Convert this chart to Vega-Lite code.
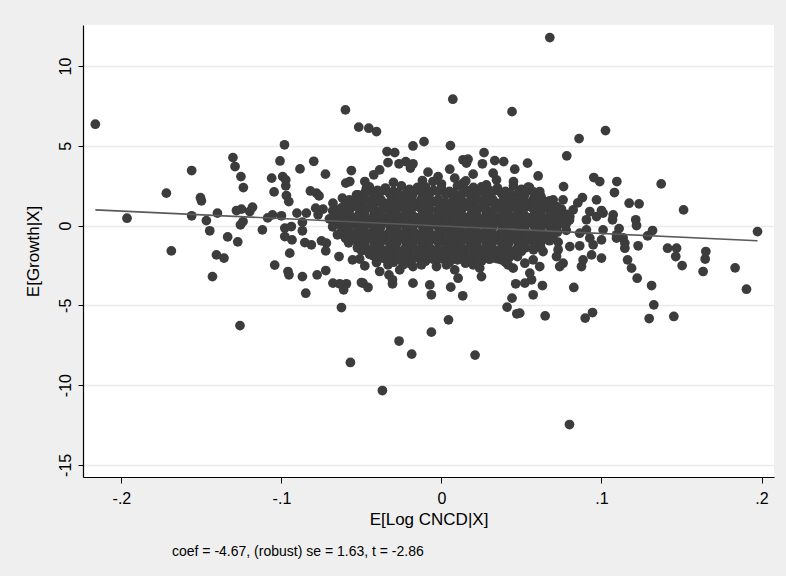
{
"$schema":"https://vega.github.io/schema/vega-lite/v6.json",
"width":691,"height":452,
"autosize":{"type":"none"},
"padding":{"left":83,"top":25,"right":12,"bottom":99},
"background":"#efefef",
"config":{"view":{"fill":"white","stroke":null},"font":"Liberation Sans"},
"title":{"text":"coef =  -4.67, (robust) se = 1.63, t = -2.86","orient":"bottom","anchor":"start","frame":"group","dx":89,"offset":18,"fontSize":14,"fontWeight":"normal","color":"#000"},
"layer":[
{"data":{"values":[
{"x":-0.2163,"y":6.35},{"x":-0.1965,"y":0.46},{"x":-0.1719,"y":2.03},{"x":-0.1688,"y":-1.59},{"x":-0.1561,"y":3.45},{"x":-0.1506,"y":1.75},{"x":-0.15,"y":1.55},{"x":-0.1561,"y":0.61},{"x":-0.1469,"y":0.31},{"x":-0.14,"y":0.78},
{"x":-0.1448,"y":-0.33},{"x":-0.1336,"y":-0.71},{"x":-0.1273,"y":-1.02},{"x":-0.1303,"y":4.26},{"x":-0.129,"y":3.7},{"x":-0.1253,"y":3.07},{"x":-0.1238,"y":2.38},{"x":-0.1281,"y":0.94},{"x":-0.125,"y":1.03},{"x":-0.1181,"y":1.15},
{"x":-0.1198,"y":0.88},{"x":-0.124,"y":0.25},{"x":-0.1256,"y":0.04},{"x":-0.1119,"y":-0.27},{"x":-0.1086,"y":0.48},{"x":-0.1056,"y":0.67},{"x":-0.1,"y":0.61},{"x":-0.1061,"y":2.97},{"x":-0.1046,"y":2.11},{"x":-0.1009,"y":4.05},
{"x":-0.0981,"y":5.06},{"x":-0.0992,"y":3.07},{"x":-0.0973,"y":2.86},{"x":-0.0973,"y":2.49},{"x":-0.0969,"y":1.88},{"x":-0.0954,"y":1.5},{"x":-0.0884,"y":3.55},{"x":-0.0798,"y":4.03},{"x":-0.0819,"y":2.17},{"x":-0.0781,"y":2.03},
{"x":-0.0903,"y":0.78},{"x":-0.0844,"y":0.78},{"x":-0.0869,"y":0.21},{"x":-0.0786,"y":1.09},{"x":-0.0979,"y":-0.16},{"x":-0.0938,"y":-0.06},{"x":-0.0979,"y":-0.69},{"x":-0.0934,"y":-0.9},{"x":-0.0854,"y":-1.07},{"x":-0.0813,"y":-1.21},
{"x":-0.1406,"y":-1.84},{"x":-0.1359,"y":-2.04},{"x":-0.1431,"y":-3.2},{"x":-0.1259,"y":-6.27},{"x":-0.1042,"y":-2.48},{"x":-0.0959,"y":-2.88},{"x":-0.0953,"y":-3.09},{"x":-0.0869,"y":-3.2},{"x":-0.0848,"y":-4.24},{"x":-0.0948,"y":-1.73},
{"x":-0.0777,"y":-3.09},{"x":-0.0725,"y":3.22},{"x":-0.0765,"y":1.86},{"x":-0.074,"y":1.03},{"x":-0.0771,"y":0.67},{"x":-0.0869,"y":-0.33},{"x":-0.075,"y":-0.96},{"x":-0.0719,"y":-1.1},{"x":-0.0723,"y":-1.59},{"x":-0.0723,"y":-2.82},
{"x":-0.0678,"y":-3.61},{"x":-0.0636,"y":-3.65},{"x":-0.0594,"y":-3.65},{"x":-0.0611,"y":-4.03},{"x":-0.049,"y":-3.61},{"x":-0.064,"y":-1.94},{"x":-0.0556,"y":-2.15},{"x":-0.0511,"y":-2.1},{"x":-0.0479,"y":-2.53},
{"x":-0.0678,"y":1.4},{"x":-0.0656,"y":0.98},{"x":-0.0619,"y":1.72},{"x":-0.0604,"y":1.19},{"x":-0.0636,"y":0.56},{"x":-0.0598,"y":2.66},{"x":-0.0573,"y":2.76},{"x":-0.0563,"y":3.45},{"x":-0.0531,"y":1.92},{"x":-0.0511,"y":1.61},
{"x":-0.0479,"y":2.76},{"x":-0.0469,"y":2.34},{"x":-0.06,"y":7.25},{"x":-0.0517,"y":6.17},{"x":-0.0454,"y":6.1},{"x":-0.0406,"y":5.89},{"x":0.0071,"y":7.92},{"x":0.0441,"y":7.14},{"x":-0.0109,"y":5.26},{"x":-0.0178,"y":4.99},
{"x":0.0056,"y":5.01},{"x":-0.034,"y":4.64},{"x":-0.0292,"y":4.57},{"x":-0.0334,"y":3.95},{"x":-0.0265,"y":3.87},{"x":-0.0223,"y":4.01},{"x":-0.0178,"y":3.87},{"x":-0.0194,"y":3.6},{"x":-0.0423,"y":3.18},{"x":-0.0386,"y":3.49},
{"x":-0.0084,"y":3.35},{"x":-0.0021,"y":3.07},{"x":-0.0119,"y":2.82},{"x":-0.0053,"y":2.76},{"x":0.0135,"y":4.12},{"x":0.0166,"y":4.16},{"x":0.0156,"y":3.91},{"x":0.0256,"y":3.87},{"x":0.0266,"y":4.57},{"x":0.0333,"y":4.07},
{"x":0.0389,"y":4.01},{"x":0.0538,"y":3.91},{"x":0.0458,"y":3.53},{"x":0.0198,"y":3.22},{"x":0.0052,"y":3.53},{"x":0.0083,"y":2.97},{"x":0.0152,"y":2.8},{"x":0.0323,"y":3.28},{"x":0.0344,"y":2.86},{"x":0.0541,"y":2.41},
{"x":0.0604,"y":3.11},{"x":0.0677,"y":11.78},{"x":0.1025,"y":5.95},{"x":0.086,"y":5.45},{"x":0.0783,"y":4.37},{"x":0.0952,"y":3.01},{"x":0.0989,"y":2.76},{"x":0.1096,"y":2.76},{"x":0.1373,"y":2.61},{"x":0.0763,"y":2.44},
{"x":0.1081,"y":2.07},{"x":0.0881,"y":1.75},{"x":0.0969,"y":1.61},{"x":0.1173,"y":1.4},{"x":0.1235,"y":1.36},{"x":0.1513,"y":0.98},{"x":0.1975,"y":-0.38},{"x":0.1214,"y":0.36},{"x":0.1219,"y":0.0},{"x":0.1319,"y":-0.31},
{"x":0.1288,"y":-0.65},{"x":0.111,"y":-0.19},{"x":0.1094,"y":-0.58},{"x":0.1135,"y":-0.77},{"x":0.1146,"y":-1.1},{"x":0.1146,"y":-1.42},{"x":0.1229,"y":-1.27},{"x":0.1413,"y":-1.42},{"x":0.1469,"y":-1.42},{"x":0.1464,"y":-1.94},
{"x":0.1504,"y":-2.51},{"x":0.1163,"y":-2.15},{"x":0.1188,"y":-2.67},{"x":0.1223,"y":-3.3},{"x":0.1313,"y":-3.76},{"x":0.0827,"y":-3.88},{"x":0.0573,"y":-4.34},{"x":0.0631,"y":-3.76},{"x":0.0563,"y":-3.4},{"x":0.0521,"y":-3.61},
{"x":0.1652,"y":-1.63},{"x":0.1648,"y":-2.1},{"x":0.1635,"y":-2.88},{"x":0.1835,"y":-2.65},{"x":0.1906,"y":-3.99},{"x":0.1327,"y":-4.97},{"x":0.1298,"y":-5.83},{"x":0.1452,"y":-5.7},{"x":0.0898,"y":-5.8},{"x":0.0944,"y":-5.45},
{"x":0.0648,"y":-5.66},{"x":0.0489,"y":-5.49},{"x":0.08,"y":-12.47},{"x":-0.0625,"y":-5.14},{"x":-0.0569,"y":-8.58},{"x":-0.0369,"y":-10.34},{"x":-0.0265,"y":-7.24},{"x":-0.0186,"y":-8.06},{"x":-0.0063,"y":-6.68},{"x":0.0044,"y":-5.91},
{"x":0.021,"y":-8.12},{"x":0.041,"y":-5.11},{"x":0.0471,"y":-5.53},{"x":0.0441,"y":-4.55},{"x":0.0464,"y":-3.65},{"x":-0.05,"y":-3.57},{"x":-0.0459,"y":-3.88},{"x":-0.0306,"y":-3.65},{"x":-0.0178,"y":-3.61},{"x":-0.0073,"y":-3.72},
{"x":-0.0063,"y":-4.34},{"x":0.0058,"y":-3.86},{"x":0.0133,"y":-4.4},{"x":-0.0406,"y":-2.32},{"x":-0.0386,"y":-2.88},{"x":-0.0334,"y":-2.46},{"x":-0.0328,"y":-3.09},{"x":-0.0306,"y":-3.4},{"x":-0.0261,"y":-2.78},{"x":-0.024,"y":-2.46},
{"x":-0.0178,"y":-2.57},{"x":-0.0125,"y":-2.46},{"x":-0.0031,"y":-2.57},{"x":0.0031,"y":-2.46},{"x":0.0083,"y":-2.78},{"x":0.0104,"y":-3.3},{"x":0.0198,"y":-2.46},{"x":0.0239,"y":-2.67},{"x":0.025,"y":-3.2},{"x":0.0375,"y":-2.15},
{"x":0.0416,"y":-2.46},{"x":0.0448,"y":-2.67},{"x":0.0614,"y":2.13},{"x":0.0625,"y":1.72},{"x":0.0656,"y":1.3},{"x":0.0698,"y":1.61},{"x":0.0719,"y":1.19},{"x":0.0688,"y":0.78},{"x":0.075,"y":1.03},{"x":0.076,"y":1.61},
{"x":0.0823,"y":0.98},{"x":0.0802,"y":0.56},{"x":0.0781,"y":0.15},{"x":0.0729,"y":0.25},{"x":0.0614,"y":-0.58},{"x":0.0583,"y":-1.32},{"x":0.0635,"y":-1.63},{"x":0.0521,"y":-2.36},{"x":0.0573,"y":-2.15},{"x":0.0614,"y":-2.57},
{"x":0.0552,"y":-2.98},{"x":0.0719,"y":-1.94},{"x":0.0739,"y":-2.57},{"x":0.0729,"y":-1.52},{"x":0.0802,"y":-1.32},{"x":0.0864,"y":-1.27},{"x":0.0927,"y":-0.79},{"x":0.0906,"y":-0.27},{"x":0.0864,"y":-0.48},{"x":0.0875,"y":-2.57},
{"x":0.0885,"y":-2.15},{"x":0.0938,"y":-1.84},{"x":0.1,"y":-2.04},{"x":0.0948,"y":-1.21},{"x":0.1,"y":-0.9},{"x":0.101,"y":-0.27},{"x":0.0906,"y":0.36},{"x":0.0927,"y":0.88},{"x":0.0969,"y":0.56},{"x":0.101,"y":0.78},
{"x":0.1073,"y":0.67},{"x":0.1069,"y":0.36},{"x":0.1094,"y":-0.79},{"x":0.076,"y":-2.36},{"x":0.0729,"y":-1.04},{"x":0.1,"y":0.94},{"x":0.0852,"y":1.42},{"x":0.0135,"y":2.66},{"x":0.0281,"y":2.55},{"x":-0.03,"y":2.7},{"x":0.045,"y":2.75},{"x":0.0,"y":2.6},
{"x":-0.045,"y":2.42},{"x":-0.04,"y":2.2},{"x":-0.035,"y":2.35},{"x":-0.03,"y":2.14},{"x":-0.025,"y":2.48},{"x":-0.02,"y":2.26},{"x":-0.015,"y":2.39},{"x":-0.01,"y":2.42},{"x":-0.005,"y":2.2},{"x":0,"y":2.35},{"x":0.005,"y":2.14},{"x":0.01,"y":2.48},{"x":0.015,"y":2.26},{"x":0.02,"y":2.39},{"x":0.025,"y":2.42},{"x":0.03,"y":2.2},{"x":0.035,"y":2.35},{"x":0.04,"y":2.14},{"x":0.045,"y":2.48},{"x":0.05,"y":2.26},{"x":0.055,"y":2.39},
{"x":-0.052,"y":1.92},{"x":-0.048,"y":1.7},{"x":-0.042,"y":1.85},{"x":-0.038,"y":1.64},{"x":-0.032,"y":1.98},{"x":-0.028,"y":1.76},{"x":-0.022,"y":1.89},{"x":-0.018,"y":1.92},{"x":-0.012,"y":1.7},{"x":-0.008,"y":1.85},{"x":-0.002,"y":1.64},{"x":0.003,"y":1.98},{"x":0.008,"y":1.76},{"x":0.012,"y":1.89},{"x":0.018,"y":1.92},{"x":0.022,"y":1.7},{"x":0.028,"y":1.85},{"x":0.032,"y":1.64},{"x":0.038,"y":1.98},{"x":0.042,"y":1.76},{"x":0.048,"y":1.89},{"x":0.052,"y":1.92},{"x":0.058,"y":1.7},{"x":0.062,"y":1.85},
{"x":-0.06,"y":1.42},{"x":-0.055,"y":1.2},{"x":-0.05,"y":1.35},{"x":-0.045,"y":1.14},{"x":-0.04,"y":1.48},{"x":-0.035,"y":1.26},{"x":-0.03,"y":1.39},{"x":-0.025,"y":1.42},{"x":-0.02,"y":1.2},{"x":-0.015,"y":1.35},{"x":-0.01,"y":1.14},{"x":-0.005,"y":1.48},{"x":0,"y":1.26},{"x":0.005,"y":1.39},{"x":0.01,"y":1.42},{"x":0.015,"y":1.2},{"x":0.02,"y":1.35},{"x":0.025,"y":1.14},{"x":0.03,"y":1.48},{"x":0.035,"y":1.26},{"x":0.04,"y":1.39},{"x":0.045,"y":1.42},{"x":0.05,"y":1.2},{"x":0.055,"y":1.35},{"x":0.06,"y":1.14},{"x":0.065,"y":1.48},{"x":0.07,"y":1.26},
{"x":-0.068,"y":0.92},{"x":-0.062,"y":0.7},{"x":-0.058,"y":0.85},{"x":-0.052,"y":0.64},{"x":-0.048,"y":0.98},{"x":-0.042,"y":0.76},{"x":-0.038,"y":0.89},{"x":-0.032,"y":0.92},{"x":-0.028,"y":0.7},{"x":-0.022,"y":0.85},{"x":-0.018,"y":0.64},{"x":-0.012,"y":0.98},{"x":-0.008,"y":0.76},{"x":-0.002,"y":0.89},{"x":0.003,"y":0.92},{"x":0.008,"y":0.7},{"x":0.012,"y":0.85},{"x":0.018,"y":0.64},{"x":0.022,"y":0.98},{"x":0.028,"y":0.76},{"x":0.032,"y":0.89},{"x":0.038,"y":0.92},{"x":0.042,"y":0.7},{"x":0.048,"y":0.85},{"x":0.052,"y":0.64},{"x":0.058,"y":0.98},{"x":0.062,"y":0.76},{"x":0.068,"y":0.89},{"x":0.072,"y":0.92},{"x":0.078,"y":0.7},
{"x":-0.07,"y":0.42},{"x":-0.065,"y":0.2},{"x":-0.06,"y":0.35},{"x":-0.055,"y":0.14},{"x":-0.05,"y":0.48},{"x":-0.045,"y":0.26},{"x":-0.04,"y":0.39},{"x":-0.035,"y":0.42},{"x":-0.03,"y":0.2},{"x":-0.025,"y":0.35},{"x":-0.02,"y":0.14},{"x":-0.015,"y":0.48},{"x":-0.01,"y":0.26},{"x":-0.005,"y":0.39},{"x":0,"y":0.42},{"x":0.005,"y":0.2},{"x":0.01,"y":0.35},{"x":0.015,"y":0.14},{"x":0.02,"y":0.48},{"x":0.025,"y":0.26},{"x":0.03,"y":0.39},{"x":0.035,"y":0.42},{"x":0.04,"y":0.2},{"x":0.045,"y":0.35},{"x":0.05,"y":0.14},{"x":0.055,"y":0.48},{"x":0.06,"y":0.26},{"x":0.065,"y":0.39},{"x":0.07,"y":0.42},{"x":0.075,"y":0.2},{"x":0.08,"y":0.35},
{"x":-0.068,"y":-0.08},{"x":-0.062,"y":-0.3},{"x":-0.058,"y":-0.15},{"x":-0.052,"y":-0.36},{"x":-0.048,"y":-0.02},{"x":-0.042,"y":-0.24},{"x":-0.038,"y":-0.11},{"x":-0.032,"y":-0.08},{"x":-0.028,"y":-0.3},{"x":-0.022,"y":-0.15},{"x":-0.018,"y":-0.36},{"x":-0.012,"y":-0.02},{"x":-0.008,"y":-0.24},{"x":-0.002,"y":-0.11},{"x":0.003,"y":-0.08},{"x":0.008,"y":-0.3},{"x":0.012,"y":-0.15},{"x":0.018,"y":-0.36},{"x":0.022,"y":-0.02},{"x":0.028,"y":-0.24},{"x":0.032,"y":-0.11},{"x":0.038,"y":-0.08},{"x":0.042,"y":-0.3},{"x":0.048,"y":-0.15},{"x":0.052,"y":-0.36},{"x":0.058,"y":-0.02},{"x":0.062,"y":-0.24},{"x":0.068,"y":-0.11},{"x":0.072,"y":-0.08},{"x":0.078,"y":-0.3},
{"x":-0.065,"y":-0.58},{"x":-0.06,"y":-0.8},{"x":-0.055,"y":-0.65},{"x":-0.05,"y":-0.86},{"x":-0.045,"y":-0.52},{"x":-0.04,"y":-0.74},{"x":-0.035,"y":-0.61},{"x":-0.03,"y":-0.58},{"x":-0.025,"y":-0.8},{"x":-0.02,"y":-0.65},{"x":-0.015,"y":-0.86},{"x":-0.01,"y":-0.52},{"x":-0.005,"y":-0.74},{"x":0,"y":-0.61},{"x":0.005,"y":-0.58},{"x":0.01,"y":-0.8},{"x":0.015,"y":-0.65},{"x":0.02,"y":-0.86},{"x":0.025,"y":-0.52},{"x":0.03,"y":-0.74},{"x":0.035,"y":-0.61},{"x":0.04,"y":-0.58},{"x":0.045,"y":-0.8},{"x":0.05,"y":-0.65},{"x":0.055,"y":-0.86},{"x":0.06,"y":-0.52},{"x":0.065,"y":-0.74},{"x":0.07,"y":-0.61},
{"x":-0.058,"y":-1.08},{"x":-0.052,"y":-1.3},{"x":-0.048,"y":-1.15},{"x":-0.042,"y":-1.36},{"x":-0.038,"y":-1.02},{"x":-0.032,"y":-1.24},{"x":-0.028,"y":-1.11},{"x":-0.022,"y":-1.08},{"x":-0.018,"y":-1.3},{"x":-0.012,"y":-1.15},{"x":-0.008,"y":-1.36},{"x":-0.002,"y":-1.02},{"x":0.003,"y":-1.24},{"x":0.008,"y":-1.11},{"x":0.012,"y":-1.08},{"x":0.018,"y":-1.3},{"x":0.022,"y":-1.15},{"x":0.028,"y":-1.36},{"x":0.032,"y":-1.02},{"x":0.038,"y":-1.24},{"x":0.042,"y":-1.11},{"x":0.048,"y":-1.08},{"x":0.052,"y":-1.3},{"x":0.058,"y":-1.15},{"x":0.062,"y":-1.36},
{"x":-0.05,"y":-1.58},{"x":-0.045,"y":-1.8},{"x":-0.04,"y":-1.65},{"x":-0.035,"y":-1.86},{"x":-0.03,"y":-1.52},{"x":-0.025,"y":-1.74},{"x":-0.02,"y":-1.61},{"x":-0.015,"y":-1.58},{"x":-0.01,"y":-1.8},{"x":-0.005,"y":-1.65},{"x":0,"y":-1.86},{"x":0.005,"y":-1.52},{"x":0.01,"y":-1.74},{"x":0.015,"y":-1.61},{"x":0.02,"y":-1.58},{"x":0.025,"y":-1.8},{"x":0.03,"y":-1.65},{"x":0.035,"y":-1.86},{"x":0.04,"y":-1.52},{"x":0.045,"y":-1.74},{"x":0.05,"y":-1.61},
{"x":-0.035,"y":-2.08},{"x":-0.03,"y":-2.3},{"x":-0.025,"y":-2.15},{"x":-0.02,"y":-2.36},{"x":-0.015,"y":-2.02},{"x":-0.01,"y":-2.24},{"x":-0.005,"y":-2.11},{"x":0,"y":-2.08},{"x":0.005,"y":-2.3},{"x":0.01,"y":-2.15},{"x":0.015,"y":-2.36},{"x":0.02,"y":-2.02},{"x":0.025,"y":-2.24},{"x":0.03,"y":-2.11},{"x":0.035,"y":-2.08},{"x":0.04,"y":-2.3},
{"x":-0.0475,"y":2.11},{"x":-0.0425,"y":1.98},{"x":-0.0375,"y":2.15},{"x":-0.0325,"y":2.02},{"x":-0.0275,"y":2.05},{"x":-0.0225,"y":1.95},{"x":-0.0175,"y":2.09},{"x":-0.0125,"y":2.11},{"x":-0.0075,"y":1.98},{"x":-0.0025,"y":2.15},{"x":0.0025,"y":2.02},{"x":0.0075,"y":2.05},{"x":0.0125,"y":1.95},{"x":0.0175,"y":2.09},{"x":0.0225,"y":2.11},{"x":0.0275,"y":1.98},{"x":0.0325,"y":2.15},{"x":0.0375,"y":2.02},{"x":0.0425,"y":2.05},{"x":0.0475,"y":1.95},{"x":0.0525,"y":2.09},{"x":0.0575,"y":2.11},
{"x":-0.0575,"y":1.61},{"x":-0.0525,"y":1.48},{"x":-0.0475,"y":1.65},{"x":-0.0425,"y":1.52},{"x":-0.0375,"y":1.55},{"x":-0.0325,"y":1.45},{"x":-0.0275,"y":1.59},{"x":-0.0225,"y":1.61},{"x":-0.0175,"y":1.48},{"x":-0.0125,"y":1.65},{"x":-0.0075,"y":1.52},{"x":-0.0025,"y":1.55},{"x":0.0025,"y":1.45},{"x":0.0075,"y":1.59},{"x":0.0125,"y":1.61},{"x":0.0175,"y":1.48},{"x":0.0225,"y":1.65},{"x":0.0275,"y":1.52},{"x":0.0325,"y":1.55},{"x":0.0375,"y":1.45},{"x":0.0425,"y":1.59},{"x":0.0475,"y":1.61},{"x":0.0525,"y":1.48},{"x":0.0575,"y":1.65},{"x":0.0625,"y":1.52},{"x":0.0675,"y":1.55},
{"x":-0.0625,"y":1.11},{"x":-0.0575,"y":0.98},{"x":-0.0525,"y":1.15},{"x":-0.0475,"y":1.02},{"x":-0.0425,"y":1.05},{"x":-0.0375,"y":0.95},{"x":-0.0325,"y":1.09},{"x":-0.0275,"y":1.11},{"x":-0.0225,"y":0.98},{"x":-0.0175,"y":1.15},{"x":-0.0125,"y":1.02},{"x":-0.0075,"y":1.05},{"x":-0.0025,"y":0.95},{"x":0.0025,"y":1.09},{"x":0.0075,"y":1.11},{"x":0.0125,"y":0.98},{"x":0.0175,"y":1.15},{"x":0.0225,"y":1.02},{"x":0.0275,"y":1.05},{"x":0.0325,"y":0.95},{"x":0.0375,"y":1.09},{"x":0.0425,"y":1.11},{"x":0.0475,"y":0.98},{"x":0.0525,"y":1.15},{"x":0.0575,"y":1.02},{"x":0.0625,"y":1.05},{"x":0.0675,"y":0.95},{"x":0.0725,"y":1.09},
{"x":-0.0675,"y":0.61},{"x":-0.0625,"y":0.48},{"x":-0.0575,"y":0.65},{"x":-0.0525,"y":0.52},{"x":-0.0475,"y":0.55},{"x":-0.0425,"y":0.45},{"x":-0.0375,"y":0.59},{"x":-0.0325,"y":0.61},{"x":-0.0275,"y":0.48},{"x":-0.0225,"y":0.65},{"x":-0.0175,"y":0.52},{"x":-0.0125,"y":0.55},{"x":-0.0075,"y":0.45},{"x":-0.0025,"y":0.59},{"x":0.0025,"y":0.61},{"x":0.0075,"y":0.48},{"x":0.0125,"y":0.65},{"x":0.0175,"y":0.52},{"x":0.0225,"y":0.55},{"x":0.0275,"y":0.45},{"x":0.0325,"y":0.59},{"x":0.0375,"y":0.61},{"x":0.0425,"y":0.48},{"x":0.0475,"y":0.65},{"x":0.0525,"y":0.52},{"x":0.0575,"y":0.55},{"x":0.0625,"y":0.45},{"x":0.0675,"y":0.59},{"x":0.0725,"y":0.61},{"x":0.0775,"y":0.48},
{"x":-0.0675,"y":0.11},{"x":-0.0625,"y":-0.02},{"x":-0.0575,"y":0.15},{"x":-0.0525,"y":0.02},{"x":-0.0475,"y":0.05},{"x":-0.0425,"y":-0.05},{"x":-0.0375,"y":0.09},{"x":-0.0325,"y":0.11},{"x":-0.0275,"y":-0.02},{"x":-0.0225,"y":0.15},{"x":-0.0175,"y":0.02},{"x":-0.0125,"y":0.05},{"x":-0.0075,"y":-0.05},{"x":-0.0025,"y":0.09},{"x":0.0025,"y":0.11},{"x":0.0075,"y":-0.02},{"x":0.0125,"y":0.15},{"x":0.0175,"y":0.02},{"x":0.0225,"y":0.05},{"x":0.0275,"y":-0.05},{"x":0.0325,"y":0.09},{"x":0.0375,"y":0.11},{"x":0.0425,"y":-0.02},{"x":0.0475,"y":0.15},{"x":0.0525,"y":0.02},{"x":0.0575,"y":0.05},{"x":0.0625,"y":-0.05},{"x":0.0675,"y":0.09},{"x":0.0725,"y":0.11},{"x":0.0775,"y":-0.02},
{"x":-0.0625,"y":-0.39},{"x":-0.0575,"y":-0.52},{"x":-0.0525,"y":-0.35},{"x":-0.0475,"y":-0.48},{"x":-0.0425,"y":-0.45},{"x":-0.0375,"y":-0.55},{"x":-0.0325,"y":-0.41},{"x":-0.0275,"y":-0.39},{"x":-0.0225,"y":-0.52},{"x":-0.0175,"y":-0.35},{"x":-0.0125,"y":-0.48},{"x":-0.0075,"y":-0.45},{"x":-0.0025,"y":-0.55},{"x":0.0025,"y":-0.41},{"x":0.0075,"y":-0.39},{"x":0.0125,"y":-0.52},{"x":0.0175,"y":-0.35},{"x":0.0225,"y":-0.48},{"x":0.0275,"y":-0.45},{"x":0.0325,"y":-0.55},{"x":0.0375,"y":-0.41},{"x":0.0425,"y":-0.39},{"x":0.0475,"y":-0.52},{"x":0.0525,"y":-0.35},{"x":0.0575,"y":-0.48},{"x":0.0625,"y":-0.45},{"x":0.0675,"y":-0.55},{"x":0.0725,"y":-0.41},
{"x":-0.0575,"y":-0.89},{"x":-0.0525,"y":-1.02},{"x":-0.0475,"y":-0.85},{"x":-0.0425,"y":-0.98},{"x":-0.0375,"y":-0.95},{"x":-0.0325,"y":-1.05},{"x":-0.0275,"y":-0.91},{"x":-0.0225,"y":-0.89},{"x":-0.0175,"y":-1.02},{"x":-0.0125,"y":-0.85},{"x":-0.0075,"y":-0.98},{"x":-0.0025,"y":-0.95},{"x":0.0025,"y":-1.05},{"x":0.0075,"y":-0.91},{"x":0.0125,"y":-0.89},{"x":0.0175,"y":-1.02},{"x":0.0225,"y":-0.85},{"x":0.0275,"y":-0.98},{"x":0.0325,"y":-0.95},{"x":0.0375,"y":-1.05},{"x":0.0425,"y":-0.91},{"x":0.0475,"y":-0.89},{"x":0.0525,"y":-1.02},{"x":0.0575,"y":-0.85},{"x":0.0625,"y":-0.98},{"x":0.0675,"y":-0.95},
{"x":-0.0525,"y":-1.39},{"x":-0.0475,"y":-1.52},{"x":-0.0425,"y":-1.35},{"x":-0.0375,"y":-1.48},{"x":-0.0325,"y":-1.45},{"x":-0.0275,"y":-1.55},{"x":-0.0225,"y":-1.41},{"x":-0.0175,"y":-1.39},{"x":-0.0125,"y":-1.52},{"x":-0.0075,"y":-1.35},{"x":-0.0025,"y":-1.48},{"x":0.0025,"y":-1.45},{"x":0.0075,"y":-1.55},{"x":0.0125,"y":-1.41},{"x":0.0175,"y":-1.39},{"x":0.0225,"y":-1.52},{"x":0.0275,"y":-1.35},{"x":0.0325,"y":-1.48},{"x":0.0375,"y":-1.45},{"x":0.0425,"y":-1.55},{"x":0.0475,"y":-1.41},{"x":0.0525,"y":-1.39},{"x":0.0575,"y":-1.52},
{"x":-0.0425,"y":-1.89},{"x":-0.0375,"y":-2.02},{"x":-0.0325,"y":-1.85},{"x":-0.0275,"y":-1.98},{"x":-0.0225,"y":-1.95},{"x":-0.0175,"y":-2.05},{"x":-0.0125,"y":-1.91},{"x":-0.0075,"y":-1.89},{"x":-0.0025,"y":-2.02},{"x":0.0025,"y":-1.85},{"x":0.0075,"y":-1.98},{"x":0.0125,"y":-1.95},{"x":0.0175,"y":-2.05},{"x":0.0225,"y":-1.91},{"x":0.0275,"y":-1.89},{"x":0.0325,"y":-2.02},{"x":0.0375,"y":-1.85},{"x":0.0425,"y":-1.98},{"x":0.0475,"y":-1.95}
]},
"mark":{"type":"circle","size":95,"opacity":1,"color":"#3c3c3c"},
"encoding":{
"x":{"field":"x","type":"quantitative","scale":{"domain":[-0.224,0.2078],"nice":false,"zero":false},
"axis":{"values":[-0.2,-0.1,0,0.1,0.2],"labelExpr":"replace(''+datum.value,'0.','.')","title":"E[Log CNCD|X]","grid":false,"domainColor":"#000","domainWidth":1.2,"tickColor":"#000","tickSize":6,"labelFontSize":16,"labelColor":"#000","labelPadding":7,"labelFlush":false,"titleFontSize":17,"titleFontWeight":"normal","titleColor":"#000","titlePadding":5}},
"y":{"field":"y","type":"quantitative","scale":{"domain":[-15.76,12.57],"nice":false,"zero":false},
"axis":{"values":[-15,-10,-5,0,5,10],"labelExpr":"''+datum.value","labelAngle":-90,"labelAlign":"center","labelBaseline":"alphabetic","labelPadding":8,"labelFontSize":16,"labelColor":"#000","title":"E[Growth|X]","grid":true,"gridColor":"#ebebeb","gridWidth":1.5,"domainColor":"#000","domainWidth":1.2,"tickColor":"#000","tickSize":5,"titleFontSize":17,"titleFontWeight":"normal","titleColor":"#000","titlePadding":15}}
}},
{"data":{"values":[{"x":-0.2163,"y":0.98},{"x":0.1975,"y":-0.952}]},
"mark":{"type":"line","color":"#5a5a5a","strokeWidth":1.6},
"encoding":{"x":{"field":"x","type":"quantitative"},"y":{"field":"y","type":"quantitative"}}}
]
}
